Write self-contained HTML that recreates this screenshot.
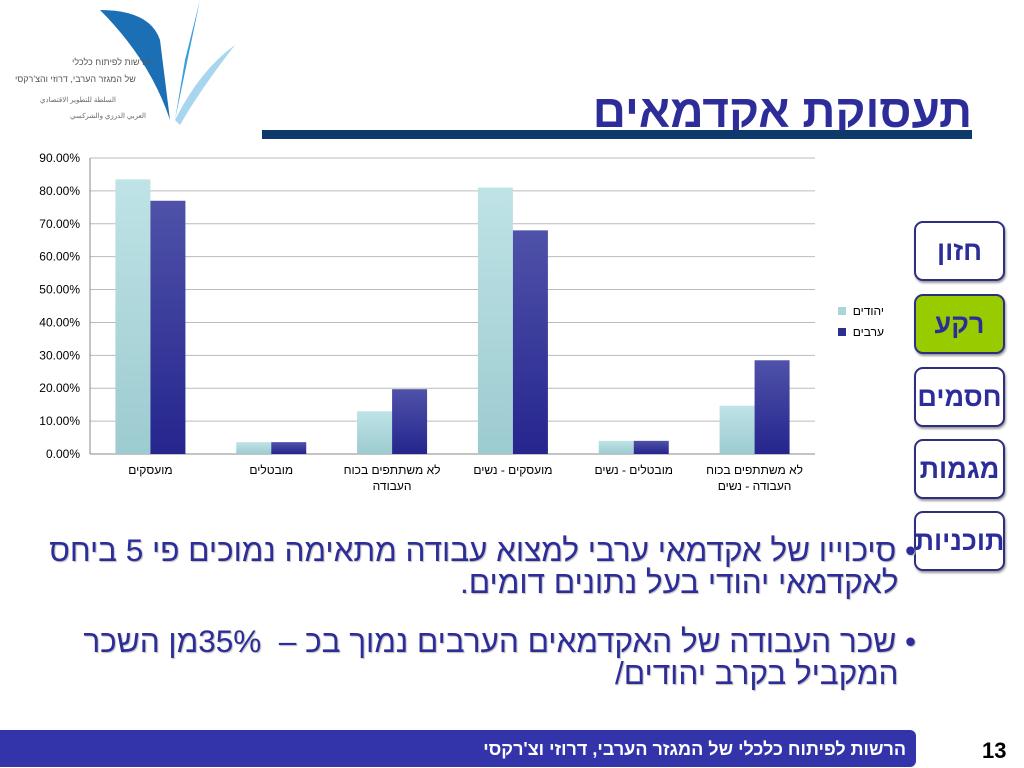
<!DOCTYPE html>
<html><head><meta charset="utf-8">
<style>
body{margin:0;width:1024px;height:768px;background:#fff;position:relative;overflow:hidden;font-family:"Liberation Sans","Noto Sans CJK SC",sans-serif;}
.abs{position:absolute;}
.nav{position:absolute;left:914px;width:87px;height:56px;border:2px solid #2e2e80;border-radius:9px;background:#fff;color:#2d2d9a;font-weight:bold;font-size:27px;display:flex;align-items:center;justify-content:center;direction:rtl;box-shadow:1px 2px 2px #999;}
.bul{position:absolute;right:108px;direction:rtl;color:#2d2d9a;font-size:31.5px;line-height:32px;text-align:right;text-shadow:1px 1px 1px #bbb;white-space:nowrap;}
</style></head><body>
<svg class="abs" style="left:0;top:0" width="240" height="130">
<path d="M100 10 Q150 10 160 40 L170 120 Q150 60 100 10Z" fill="#1a6fb5"/>
<path d="M175 120 L200 0 L185 60Z" fill="#3aa0dc"/>
<path d="M175 120 Q200 70 235 45 Q200 90 180 125Z" fill="#a8d6ef"/>
<text x="72" y="65" font-size="9" fill="#555">הרשות לפיתוח כלכלי</text>
<text x="15" y="82" font-size="9" fill="#555">של המגזר הערבי, דרוזי והצ'רקסי</text>
<text x="40" y="102" font-size="7" fill="#666">السلطة للتطوير الاقتصادي</text>
<text x="70" y="118" font-size="7" fill="#666">العربي الدرزي والشركسي</text>
</svg>
<div class="abs" style="right:52px;top:84px;font-size:46px;font-weight:bold;color:#2d2d9a;direction:rtl;">תעסוקת אקדמאים</div>
<div class="abs" style="left:262px;top:130px;width:710px;height:9px;background:#0d3a6a;"></div>

<svg class="abs" id="chart" style="left:0;top:140px" width="900" height="370"></svg>

<div class="nav" style="top:221px">חזון</div>
<div class="nav" style="top:294px;background:#99cc00">רקע</div>
<div class="nav" style="top:367px">חסמים</div>
<div class="nav" style="top:439px">מגמות</div>
<div class="nav" style="top:511px">תוכניות</div>

<div class="bul" style="top:534px">• סיכוייו של אקדמאי ערבי למצוא עבודה מתאימה נמוכים פי 5 ביחס<br>&nbsp;&nbsp;לאקדמאי יהודי בעל נתונים דומים.</div>
<div class="bul" style="top:625px">• שכר העבודה של האקדמאים הערבים נמוך בכ –&nbsp; 35%מן השכר<br>&nbsp;&nbsp;המקביל בקרב יהודים/</div>

<div class="abs" style="left:0;top:730px;width:916px;height:37px;background:#3333aa;border-radius:0 6px 6px 0;"></div>
<div class="abs" style="right:118px;top:739px;color:#fff;font-weight:bold;font-size:18px;direction:rtl;">הרשות לפיתוח כלכלי של המגזר הערבי, דרוזי וצ'רקסי</div>
<div class="abs" style="left:982px;top:738px;font-size:22px;font-weight:bold;color:#000;">13</div>

<script>
const categories=["מועסקים","מובטלים","לא משתתפים בכוח|העבודה","מועסקים - נשים","מובטלים - נשים","לא משתתפים בכוח|העבודה - נשים"];
const jews=[83.5,3.6,13,81,4,14.7];
const arabs=[77,3.6,19.7,68,4,28.5];
const ticks=[0,10,20,30,40,50,60,70,80,90];
const seriesNames=["יהודים","ערבים"];
const NS="http://www.w3.org/2000/svg";
const svg=document.getElementById('chart');
const x0=90,x1=815,yTop=18,yBot=314,maxV=90;
const y=v=>yBot-(v/maxV)*(yBot-yTop);
const gw=(x1-x0)/categories.length;
const gx=i=>x0+gw*(i+0.5);
function mk(t,a){const e=document.createElementNS(NS,t);for(const k in a)e.setAttribute(k,a[k]);svg.appendChild(e);return e;}
const defs=mk('defs',{});
defs.innerHTML='<linearGradient id="gl" x1="0" y1="0" x2="0" y2="1"><stop offset="0" stop-color="#bfe3e6"/><stop offset="1" stop-color="#9ccbd0"/></linearGradient><linearGradient id="gd" x1="0" y1="0" x2="0" y2="1"><stop offset="0" stop-color="#4f52a8"/><stop offset="1" stop-color="#25258e"/></linearGradient>';
ticks.forEach(t=>{
 const l=mk('line',{x1:x0,x2:x1,y1:y(t),y2:y(t),stroke:t==0?'#888':'#bbb','stroke-width':1});
 
 
 const tx=mk('text',{x:80,y:y(t)+4,'font-size':12,'text-anchor':'end',fill:'#000'});
 tx.textContent=t.toFixed(2)+'%';
 
 
});
mk('line',{x1:x0,x2:x0,y1:yTop,y2:yBot,stroke:'#888'});
const bw=35;
categories.forEach((c,i)=>{
 const b1=mk('rect',{x:gx(i)-bw,y:y(jews[i]),width:bw,height:yBot-y(jews[i]),fill:'url(#gl)'});
 
 
 const b2=mk('rect',{x:gx(i),y:y(arabs[i]),width:bw,height:yBot-y(arabs[i]),fill:'url(#gd)'});
 
 
 c.split('|').forEach((ln,k)=>{
  const t=mk('text',{x:gx(i),y:yBot+20+k*16,'font-size':12,'text-anchor':'middle',direction:'rtl',fill:'#000'});
  t.textContent=ln;
  
  
 });
});
seriesNames.forEach((s,k)=>{
 const r=mk('rect',{x:838,y:167+k*21,width:8,height:8,fill:k?'#2e2e92':'#a8d6dc'});
 
 
 const t=mk('text',{x:884,y:175+k*21,'font-size':12,'text-anchor':'end',fill:'#000'});
 t.textContent=s;
 
 
});
</script>
</body></html>
